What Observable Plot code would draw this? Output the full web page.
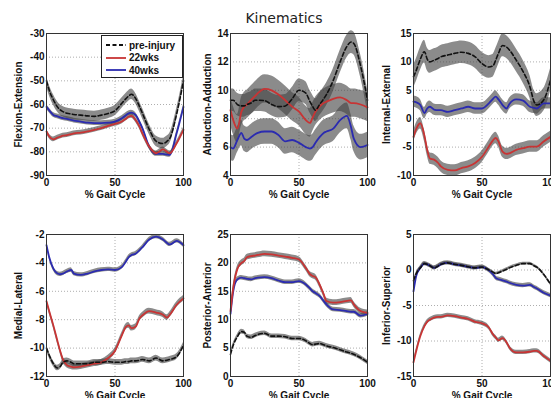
<!DOCTYPE html>
<html>
<head>
<meta charset="utf-8">
<script src="https://cdn.jsdelivr.net/npm/d3@7"></script>
<script src="https://cdn.jsdelivr.net/npm/@observablehq/plot@0.6"></script>
<style>
  html, body { margin: 0; padding: 0; background: #fff; overflow: hidden; }
  #wrap { position: relative; width: 551px; height: 398px; overflow: hidden; background: #fff; }
  #wrap svg { position: absolute; }
  #title { position: absolute; left: 0; width: 568px; top: 10px; line-height: 16px; text-align: center; font: 14px "DejaVu Sans", sans-serif; color: #222; }
  #legend { position: absolute; left: 101px; top: 35px; width: 80px; height: 41px; border: 1px solid #222; background: #fff;
            font: bold 10px "Liberation Sans", Arial, sans-serif; color: #111; }
  #legend .row { position: absolute; left: 4px; height: 12px; display: flex; align-items: center; }
  #legend .row span { margin-left: 3px; }
</style>
</head>
<body>
<div id="wrap">
  <div id="title">Kinematics</div>
</div>
<script>
// % gait cycle sample positions
const gait = [0,2,5,8,10,12,15,18,20,25,30,35,40,45,50,55,58,60,62,65,68,70,75,80,85,88,90,95,100];

const seriesNames = ["pre-injury", "22wks", "40wks"];
const panelLabels = ["Flexion-Extension","Abduction-Adduction","Internal-External","Medial-Lateral","Posterior-Anterior","Inferior-Superior"];

// Flexion-Extension
const feYTicks = [-90,-80,-70,-60,-50,-40,-30];
const fePre  = [-50,-54,-58,-61,-62.3,-63,-63.7,-64,-64.2,-64.5,-64.8,-65,-64.5,-63.8,-62.6,-59.5,-57.5,-56.4,-55.7,-57.4,-61,-63.7,-70.5,-75.5,-76.5,-75.5,-74.3,-64,-50];
const fe22   = [-71.4,-73.5,-74.7,-74,-73.6,-73.2,-72.9,-72.5,-72.2,-71.9,-71.4,-70.7,-70,-69,-68.2,-67.2,-66,-65.1,-64.8,-66.5,-69.5,-72.2,-77.8,-80.6,-79,-80,-80.6,-76.4,-70.7];
const fe40   = [-61,-62.5,-64.4,-65,-65.4,-65.8,-66.1,-66.5,-66.8,-67.2,-67.7,-67.9,-67.9,-67.7,-67.2,-65.8,-64.5,-63.7,-63.4,-64.4,-67.5,-70,-77.8,-80.9,-80.9,-81.2,-81.3,-72.2,-61];
const feSD   = [2.2, 1.0, 1.0];

// Abduction-Adduction
const aaYTicks = [4,6,8,10,12,14];
const aaPre  = [9.3,9.3,9.0,8.9,8.9,9.0,9.1,9.3,9.3,9.27,9.0,8.85,8.9,9.4,10.0,9.8,9.2,8.85,8.6,9.0,9.4,9.7,10.7,12.0,13.1,13.4,13.3,11.7,9.3];
const aa22   = [8.6,7.9,7.3,8.5,8.85,9.0,9.3,9.6,9.8,10.1,10.0,9.7,9.3,8.85,8.5,7.9,7.7,8.1,8.5,8.85,9.1,9.2,9.4,9.5,9.3,9.1,9.1,9.0,8.8];
const aa40   = [6.0,5.9,6.5,7.0,6.6,6.5,6.7,6.9,7.0,7.1,7.1,6.85,6.4,6.5,6.3,6.0,5.9,6.0,6.3,6.7,7.0,7.1,7.3,7.9,8.2,7.4,6.6,6.0,6.15];
const aaSD   = [0.8, 1.0, 0.9];

// Internal-External
const ieYTicks = [-10,-5,0,5,10,15];
const iePre  = [7.4,8.5,10.5,11.8,10.5,10.0,10.3,10.6,10.9,11.2,11.5,11.7,11.5,10.9,9.7,9.1,9.3,10.3,11.5,12.9,12.6,12.1,10.3,8.3,5.6,3.0,2.4,3.3,6.8];
const ie22   = [-3.2,-1.8,-0.8,-3.0,-5.5,-7.0,-7.2,-7.8,-8.4,-9.0,-9.1,-8.7,-8.4,-7.8,-6.7,-4.9,-3.8,-3.4,-4.0,-5.8,-6.2,-6.1,-5.5,-5.2,-4.9,-4.9,-4.9,-4.0,-3.2];
const ie40   = [3.0,2.9,2.4,1.0,1.8,2.1,1.6,1.5,1.5,1.2,1.5,1.8,2.1,1.8,1.8,2.7,3.5,3.9,3.4,2.4,1.8,2.6,3.4,3.2,2.1,1.9,1.8,2.7,2.7];
const ieSD   = [2.0, 1.0, 1.0];

// Medial-Lateral
const mlYTicks = [-12,-10,-8,-6,-4,-2];
const mlPre  = [-10.0,-10.5,-11.1,-11.4,-11.3,-11.0,-10.9,-11.0,-11.1,-11.1,-11.1,-11.0,-11.0,-10.95,-11.0,-11.0,-10.95,-10.95,-10.9,-10.9,-10.85,-10.8,-10.9,-10.7,-10.9,-10.85,-10.8,-10.6,-9.8];
const ml22   = [-6.7,-7.4,-8.4,-9.5,-10.2,-10.8,-11.2,-11.3,-11.35,-11.3,-11.2,-11.1,-11.0,-10.7,-10.2,-9.1,-8.5,-8.4,-8.6,-8.5,-7.9,-7.7,-7.4,-7.5,-7.65,-7.85,-7.65,-6.95,-6.5];
const ml40   = [-2.75,-3.6,-4.4,-4.75,-4.8,-4.75,-4.6,-4.5,-4.75,-4.85,-4.75,-4.6,-4.5,-4.45,-4.5,-4.3,-3.9,-3.6,-3.45,-3.35,-3.1,-2.9,-2.35,-2.15,-2.35,-2.6,-2.7,-2.45,-2.75];
const mlSD   = [0.2, 0.2, 0.15];

// Posterior-Anterior
const paYTicks = [0,5,10,15,20,25];
const paPre  = [3.9,5.5,7.0,7.9,7.8,7.1,6.9,7.2,7.4,7.6,7.1,7.1,7.0,6.7,6.7,6.3,5.8,5.6,5.7,5.8,5.6,5.4,5.1,4.7,4.3,4.1,3.9,3.3,2.5];
const pa22   = [11.5,15.6,18.9,20.0,20.3,21.0,21.2,21.3,21.4,21.6,21.5,21.3,21.1,20.9,20.6,19.1,18.0,17.7,17.5,16.2,14.5,13.3,13.0,13.1,13.3,13.4,12.7,11.5,11.2];
const pa40   = [11.0,15.0,17.1,17.4,17.3,17.2,17.1,17.3,17.4,17.5,17.3,16.9,16.6,16.6,16.8,16.2,15.5,15.0,14.7,14.2,13.3,12.7,11.8,11.7,11.5,11.4,11.4,10.7,11.0];
const paSD   = [0.4, 0.5, 0.4];

// Inferior-Superior
const isYTicks = [-15,-10,-5,0,5];
const isPre  = [-1.5,-0.5,0.3,0.9,0.8,0.6,0.3,0.55,0.8,1.0,0.8,0.65,0.45,0.3,0.4,0.0,-0.3,-0.5,-0.4,-0.15,0.1,0.3,0.65,0.9,0.9,0.6,0.4,-0.6,-2.0];
const is22   = [-13.0,-11.4,-9.3,-7.9,-7.3,-7.0,-6.7,-6.6,-6.6,-6.4,-6.5,-6.7,-6.9,-7.3,-7.5,-8.1,-9.05,-9.5,-9.9,-9.6,-10.2,-10.9,-11.6,-11.6,-11.5,-11.4,-11.4,-12.1,-12.8];
const is40   = [-3.0,-0.85,0.3,0.9,0.8,0.6,0.3,0.55,0.8,1.0,0.8,0.65,0.45,0.3,0.4,-0.05,-0.6,-1.1,-1.3,-1.45,-1.65,-1.8,-2.1,-2.2,-2.1,-2.4,-2.6,-3.2,-3.6];
const isSD   = [0.2, 0.3, 0.3];

const xTicks = [0, 50, 100];

const colors = {"pre-injury": "#111111", "22wks": "#c83434", "40wks": "#2b2bb0"};
const bandFill = "#444";

const panels = [
  {label: panelLabels[0], ticks: feYTicks, series: [fePre, fe22, fe40], sd: feSD, col: 0, row: 0, lab: -28},
  {label: panelLabels[1], ticks: aaYTicks, series: [aaPre, aa22, aa40], sd: aaSD, col: 1, row: 0, lab: -23},
  {label: panelLabels[2], ticks: ieYTicks, series: [iePre, ie22, ie40], sd: ieSD, col: 2, row: 0, lab: -27},
  {label: panelLabels[3], ticks: mlYTicks, series: [mlPre, ml22, ml40], sd: mlSD, col: 0, row: 1, lab: -28},
  {label: panelLabels[4], ticks: paYTicks, series: [paPre, pa22, pa40], sd: paSD, col: 1, row: 1, lab: -23},
  {label: panelLabels[5], ticks: isYTicks, series: [isPre, is22, is40], sd: isSD, col: 2, row: 1, lab: -27}
];

const colLeft = [0, 183.5, 367];
const rowTop = [23.3, 224];
const font = "Liberation Sans, Arial, sans-serif";
const wrap = document.getElementById("wrap");
const fmt = d => String(d);

for (const p of panels) {
  const rows = [];
  p.series.forEach((vals, si) => {
    vals.forEach((v, i) => rows.push({series: seriesNames[si], x: gait[i], y: v, lo: v - p.sd[si], hi: v + p.sd[si]}));
  });
  const ext = [p.ticks[0], p.ticks[p.ticks.length - 1]];
  const marks = [
    Plot.gridY(p.ticks, {stroke: "#999", strokeOpacity: 1, strokeDasharray: "1,2", strokeWidth: 0.8}),
    Plot.gridX([50], {stroke: "#999", strokeOpacity: 1, strokeDasharray: "1,2", strokeWidth: 0.8}),
  ];
  for (const s of seriesNames) {
    marks.push(Plot.areaY(rows.filter(d => d.series === s), {x: "x", y1: "lo", y2: "hi", fill: bandFill, fillOpacity: 0.62, curve: "monotone-x"}));
  }
  for (const s of ["40wks", "22wks", "pre-injury"]) {
    marks.push(Plot.lineY(rows.filter(d => d.series === s), {
      x: "x", y: "y", stroke: colors[s], strokeWidth: s === "pre-injury" ? 1.6 : 1.8,
      strokeDasharray: s === "pre-injury" ? "4,2.5" : null, curve: "monotone-x"
    }));
  }
  marks.push(
    Plot.frame({stroke: "#333", strokeWidth: 1}),
    Plot.axisY(p.ticks, {tickSize: 0, tickPadding: 2, label: null, tickFormat: fmt, fontSize: 10, fontWeight: "bold", fill: "#111"}),
    Plot.axisX(xTicks, {tickSize: 0, tickPadding: 3, label: null, tickFormat: fmt, fontSize: 10, fontWeight: "bold", fill: "#111"}),
    Plot.text([p.label], {frameAnchor: "left", rotate: -90, dx: p.lab, text: d => d, fontSize: 10, fontWeight: "bold", fill: "#111", textAnchor: "middle", lineAnchor: "middle"}),
    Plot.text(["% Gait Cycle"], {frameAnchor: "bottom", dy: 19.5, text: d => d, fontSize: 10, fontWeight: "bold", fill: "#111", textAnchor: "middle", lineAnchor: "middle"})
  );
  const svg = Plot.plot({
    width: 191, height: 180,
    marginLeft: 46, marginRight: 8, marginTop: 10, marginBottom: 28,
    x: {domain: [0, 100]},
    y: {domain: ext},
    style: {background: "transparent", fontFamily: font, overflow: "visible"},
    marks
  });
  svg.style.left = colLeft[p.col] + "px";
  svg.style.top = rowTop[p.row] + "px";
  svg.style.maxWidth = "none";
  wrap.appendChild(svg);
}

// legend
const legend = document.createElement("div");
legend.id = "legend";
seriesNames.forEach((s, i) => {
  const row = document.createElement("div");
  row.className = "row";
  row.style.top = (3 + i * 12.5) + "px";
  const dash = s === "pre-injury" ? 'stroke-dasharray="4,2.5"' : "";
  row.innerHTML = `<svg width="20" height="6" style="position:static"><line x1="0" y1="3" x2="20" y2="3" stroke="${colors[s]}" stroke-width="1.8" ${dash}/></svg><span>${s}</span>`;
  legend.appendChild(row);
});
wrap.appendChild(legend);
</script>
</body>
</html>
